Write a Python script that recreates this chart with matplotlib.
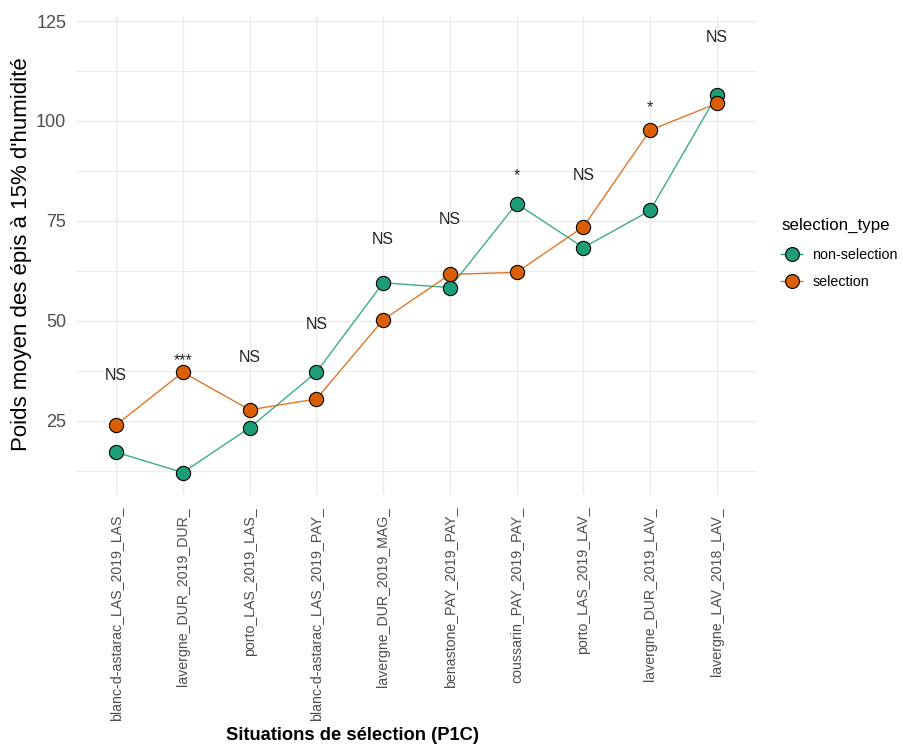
import matplotlib
matplotlib.use("Agg")
import matplotlib.pyplot as plt
from matplotlib.lines import Line2D
from matplotlib.ticker import MultipleLocator

plt.rcParams['font.family'] = ['Liberation Sans', 'DejaVu Sans']

situations = [
    "blanc-d-astarac_LAS_2019_LAS_",
    "lavergne_DUR_2019_DUR_",
    "porto_LAS_2019_LAS_",
    "blanc-d-astarac_LAS_2019_PAY_",
    "lavergne_DUR_2019_MAG_",
    "benastone_PAY_2019_PAY_",
    "coussarin_PAY_2019_PAY_",
    "porto_LAS_2019_LAV_",
    "lavergne_DUR_2019_LAV_",
    "lavergne_LAV_2018_LAV_",
]
non_selection = [17.1, 12.0, 23.2, 37.1, 59.5, 58.3, 79.3, 68.3, 77.6, 106.5]
selection = [23.9, 37.1, 27.7, 30.4, 50.2, 61.6, 62.1, 73.5, 97.7, 104.4]
signif_labels = ["NS", "***", "NS", "NS", "NS", "NS", "*", "NS", "*", "NS"]
signif_y = [36.2, 40.0, 40.8, 49.1, 70.3, 75.4, 86.4, 86.4, 103.3, 120.8]

series_names = ["non-selection", "selection"]
series_colors = ["#1B9E77", "#D95F02"]

W, H = 904, 750
fig = plt.figure(figsize=(W / 100, H / 100), dpi=100)
ax = fig.add_axes([76 / W, 1 - 494.5 / H, (757 - 76) / W, (494.5 - 15.9) / H])

x = list(range(1, len(situations) + 1))
handles = []
for vals, name, col in zip([non_selection, selection], series_names, series_colors):
    ax.plot(x, vals, color=col, lw=1.0, alpha=0.85, zorder=3)
    ax.scatter(x, vals, s=105, color=col, edgecolor="black", linewidth=0.8, zorder=4)
    handles.append(Line2D([0], [0], color=col, lw=1.0, marker="o", markersize=10,
                          markerfacecolor=col, markeredgecolor="black",
                          markeredgewidth=0.8, label=name))

for xi, lab, yi in zip(x, signif_labels, signif_y):
    ax.text(xi, yi, lab, ha="center", va="center", fontsize=11.4, color="#222222", zorder=5)

ax.set_xlim(0.4, 10.6)
ax.set_ylim(6.5, 126.3)
ax.yaxis.set_major_locator(MultipleLocator(25))
ax.yaxis.set_minor_locator(MultipleLocator(12.5))
ax.set_xticks(x)
ax.set_xticklabels(situations, rotation=90, fontsize=10.2, color="#4D4D4D")
ax.tick_params(axis="y", labelsize=13, labelcolor="#4D4D4D", length=0, pad=7)
ax.tick_params(axis="x", length=0, pad=9)
ax.tick_params(which="minor", length=0)

ax.grid(which="major", color="#EBEBEB", lw=1.0)
ax.grid(which="minor", axis="y", color="#EBEBEB", lw=0.7)
ax.set_axisbelow(True)
for sp in ax.spines.values():
    sp.set_visible(False)

fig.text(21.5 / W, 1 - 254 / H, "Poids moyen des épis à 15% d'humidité", ha="center",
         va="center", rotation=90, fontsize=16, color="black")
fig.text(352.5 / W, 1 - 736 / H, "Situations de sélection (P1C)", ha="center", va="center",
         fontsize=13.2, fontweight="bold")

leg = fig.legend(handles=handles, title="selection_type", loc="upper left",
                 bbox_to_anchor=(781 / W, 1 - 218 / H), frameon=False,
                 fontsize=10.3, title_fontsize=12.2, handlelength=1.5,
                 handletextpad=0.7, labelspacing=0.85, borderpad=0, borderaxespad=0,
                 alignment="left")
leg._legend_box.sep = 11

fig.savefig("out.png", dpi=100, facecolor="white")
